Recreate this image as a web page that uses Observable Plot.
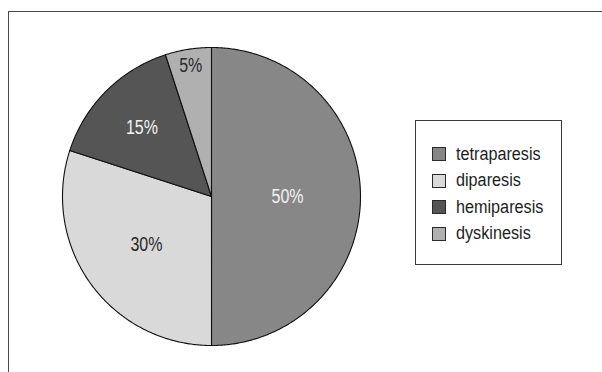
<!DOCTYPE html>
<html>
<head>
<meta charset="utf-8">
<script src="https://cdn.jsdelivr.net/npm/d3@7"></script>
<script src="https://cdn.jsdelivr.net/npm/@observablehq/plot@0.6"></script>
<style>
  html, body { margin: 0; padding: 0; background: #fff; }
  #wrap { position: relative; width: 602px; height: 372px; overflow: hidden; }
  #frame { position: absolute; left: 8px; top: 11px; width: 700px; height: 500px;
           border-left: 1.5px solid #4a4a4a; border-top: 1.5px solid #4a4a4a; }
  #legend { position: absolute; left: 415px; top: 120px; width: 147px; height: 145px;
            border: 1.5px solid #3a3a3a; background: #fff; box-sizing: border-box;
            font-family: "Liberation Sans", Arial, sans-serif;
            font-size: 18px; color: #1e1e1e; padding-top: 20px; }
  .row { display: flex; align-items: center; height: 26.5px; padding-left: 15.5px; }
  .sw { width: 12px; height: 12px; border: 1.3px solid #2a2a2a; margin-right: 10px; flex: none; }
  .lt { display: inline-block; transform: scaleX(0.9); transform-origin: left center; white-space: nowrap; }
  #chart { position: absolute; left: 0; top: 0; }
</style>
</head>
<body>
<div id="wrap">
  <div id="frame"></div>
  <div id="chart"></div>
  <div id="legend"></div>
</div>
<script>
const categories = ["tetraparesis", "diparesis", "hemiparesis", "dyskinesis"];
const values = [50, 30, 15, 5];
const labels = ["50%", "30%", "15%", "5%"];
const colors = ["#878787", "#d9d9d9", "#555555", "#b0b0b0"];
const labelColors = ["#f2f2f2", "#2a2a2a", "#f2f2f2", "#2a2a2a"];
const labelRadius = [0.51, 0.54, 0.66, 0.89];

const arcs = d3.pie().sort(null).value(d => d)(values);

function slicePoints(a, i) {
  const pts = [{cat: categories[i], x: 0, y: 0}];
  const n = Math.max(8, Math.ceil((a.endAngle - a.startAngle) / 0.01));
  for (let k = 0; k <= n; k++) {
    const t = a.startAngle + (a.endAngle - a.startAngle) * k / n;
    pts.push({cat: categories[i], x: Math.sin(t), y: Math.cos(t)});
  }
  return pts;
}

const labelData = arcs.map((a, i) => {
  const m = (a.startAngle + a.endAngle) / 2;
  return {label: labels[i], x: labelRadius[i] * Math.sin(m), y: labelRadius[i] * Math.cos(m), color: labelColors[i]};
});

const cx = 211, cy = 196, r = 149;

const plot = Plot.plot({
  width: 602,
  height: 372,
  margin: 0,
  x: {domain: [-1, 1], range: [cx - r, cx + r], axis: null},
  y: {domain: [-1, 1], range: [cy + r, cy - r], axis: null},
  style: {background: "transparent", overflow: "visible"},
  marks: [
    ...arcs.map((a, i) => Plot.line(slicePoints(a, i), {
      x: "x", y: "y", fill: colors[i], stroke: "#111", strokeWidth: 1.1, curve: "linear-closed"
    })),
    Plot.text(labelData, {
      x: "x", y: "y", text: "label", fill: "color",
      fontSize: 20, fontFamily: "Liberation Sans, Arial, sans-serif"
    })
  ]
});
// condense the label glyphs horizontally around their scaled anchor
const sx = plot.scale("x"), sy = plot.scale("y");
const texts = [...plot.querySelectorAll("text")].filter(t => labels.includes(t.textContent));
texts.forEach(t => {
  const d = labelData.find(e => e.label === t.textContent);
  t.removeAttribute("x");
  t.setAttribute("y", "0.34em");
  t.setAttribute("transform", `translate(${sx.apply(d.x)},${sy.apply(d.y)}) scale(0.8,1)`);
});
document.getElementById("chart").appendChild(plot);

const legend = document.getElementById("legend");
categories.forEach((c, i) => {
  const row = document.createElement("div");
  row.className = "row";
  const sw = document.createElement("div");
  sw.className = "sw";
  sw.style.background = colors[i];
  const t = document.createElement("span");
  t.className = "lt";
  t.textContent = c;
  row.appendChild(sw);
  row.appendChild(t);
  legend.appendChild(row);
});
</script>
</body>
</html>
